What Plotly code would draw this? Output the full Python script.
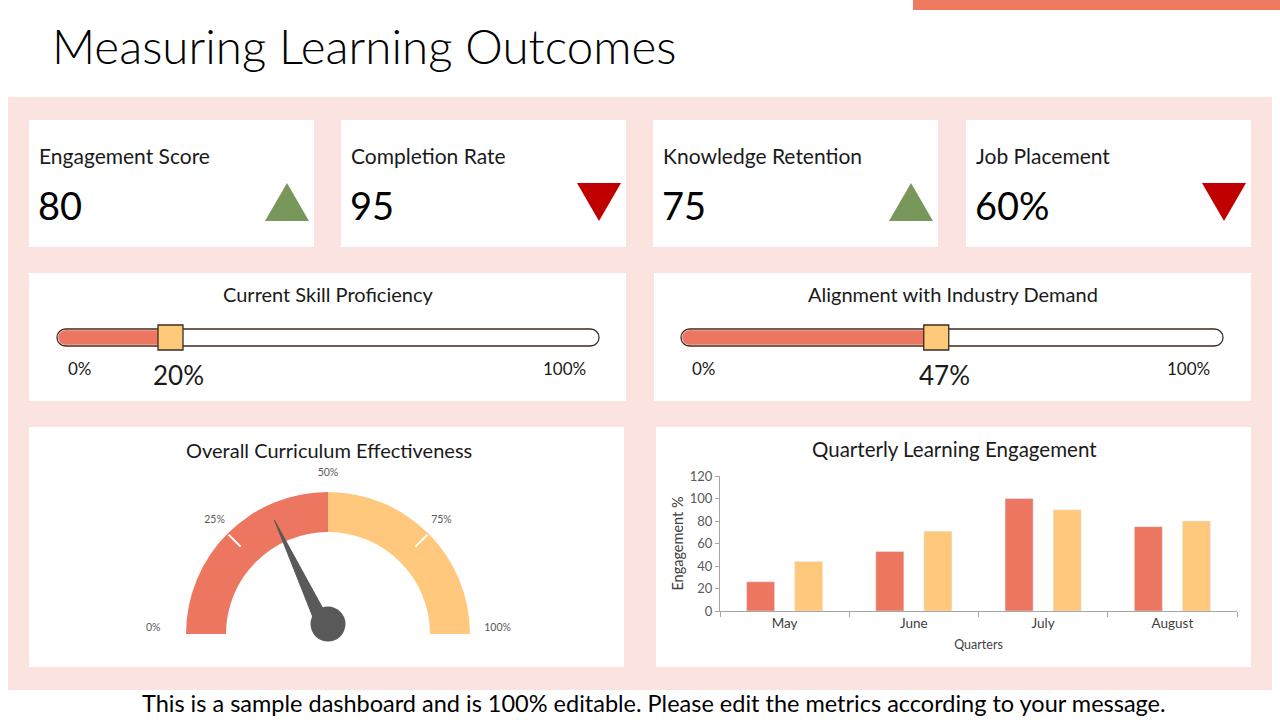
import plotly.graph_objects as go

# ---------------- data ----------------
title_text = "Measuring Learning Outcomes"
footer_text = "This is a sample dashboard and is 100% editable. Please edit the metrics according to your message."

kpi_labels = ["Engagement Score", "Completion Rate", "Knowledge Retention", "Job Placement"]
kpi_values = ["80", "95", "75", "60%"]
kpi_trend = ["up", "down", "up", "down"]

slider_titles = ["Current Skill Proficiency", "Alignment with Industry Demand"]
slider_values = [20, 47]
slider_min_label = "0%"
slider_max_label = "100%"

gauge_title = "Overall Curriculum Effectiveness"
gauge_value = 36
gauge_band_edges = [0, 50, 100]
gauge_ticks = [0, 25, 50, 75, 100]
gauge_tick_labels = ["0%", "25%", "50%", "75%", "100%"]

bar_title = "Quarterly Learning Engagement"
months = ["May", "June", "July", "August"]
series_a = [26, 53, 100, 75]
series_b = [44, 71, 90, 80]
bar_y_title = "Engagement %"
bar_x_title = "Quarters"

# ---------------- style ----------------
W, H = 1280, 720
FONT = "Lato"
RED = "#EC7660"
YEL = "#FFC87C"
PINK = "#FBE3DF"
UP_C = "#77985A"
DOWN_C = "#C00000"
DARK = "#595959"
TXT = "#1a1a1a"


def px(x):
    return x / W


def py(y):
    return 1 - y / H


shapes = []
annotations = []


def rect(x0, y0, x1, y1, color, layer="below"):
    shapes.append(dict(type="rect", xref="paper", yref="paper",
                       x0=px(x0), x1=px(x1), y0=py(y1), y1=py(y0),
                       fillcolor=color, line=dict(width=0), layer=layer))


def ann(text, x, y, size, color="#000000", xanchor="center", weight=None):
    f = dict(family=FONT, size=size, color=color)
    if weight:
        f["weight"] = weight
    annotations.append(dict(text=text, x=px(x), y=py(y), xref="paper", yref="paper",
                            xanchor=xanchor, yanchor="middle", showarrow=False, font=f))


def P(x, y):
    return f"{px(x):.6f},{py(y):.6f}"


def pill_path(x0, y0, x1, y1):
    r = (y1 - y0) / 2
    ym = (y0 + y1) / 2
    k = 0.5523 * r
    return (f"M {P(x0 + r, y0)} L {P(x1 - r, y0)} "
            f"C {P(x1 - r + k, y0)} {P(x1, ym - k)} {P(x1, ym)} "
            f"C {P(x1, ym + k)} {P(x1 - r + k, y1)} {P(x1 - r, y1)} "
            f"L {P(x0 + r, y1)} "
            f"C {P(x0 + r - k, y1)} {P(x0, ym + k)} {P(x0, ym)} "
            f"C {P(x0, ym - k)} {P(x0 + r - k, y0)} {P(x0 + r, y0)} Z")


def left_cap_path(x0, y0, x1, y1):
    r = (y1 - y0) / 2
    ym = (y0 + y1) / 2
    k = 0.5523 * r
    return (f"M {P(x0 + r + 2, y0)} L {P(x0 + r, y0)} "
            f"C {P(x0 + r - k, y0)} {P(x0, ym - k)} {P(x0, ym)} "
            f"C {P(x0, ym + k)} {P(x0 + r - k, y1)} {P(x0 + r, y1)} "
            f"L {P(x0 + r + 2, y1)} Z")


# background decorations
rect(913, 0, 1280, 10, "#EE7A60")
rect(8, 97, 1272, 690, PINK)

# ---------------- KPI cards ----------------
kpi_x = [29, 341, 653, 966]
kpi_w = 285
for i in range(4):
    x0 = kpi_x[i]
    rect(x0, 120, x0 + kpi_w, 247, "white")
    ann(kpi_labels[i], x0 + 8, 155, 21, TXT, "left")
    ann(kpi_values[i], x0 + 7, 205, 38, "#000000", "left")
    tx1 = x0 + kpi_w - 5
    tx0 = tx1 - 44
    if kpi_trend[i] == "up":
        path = f"M {P(tx0, 221)} L {P(tx1, 221)} L {P((tx0 + tx1) / 2, 183)} Z"
        col = UP_C
    else:
        path = f"M {P(tx0, 183)} L {P(tx1, 183)} L {P((tx0 + tx1) / 2, 221)} Z"
        col = DOWN_C
    shapes.append(dict(type="path", xref="paper", yref="paper", path=path,
                       fillcolor=col, line=dict(width=0), layer="above"))

# ---------------- sliders ----------------
slider_card_x = [(29, 626), (654, 1251)]
track_px = [(57, 599), (681, 1223)]
TY0, TY1 = 329, 346
fig = go.Figure()
for i in range(2):
    cx0, cx1 = slider_card_x[i]
    rect(cx0, 273, cx1, 401, "white")
    ann(slider_titles[i], (cx0 + cx1) / 2, 294, 20, TXT)
    t0, t1 = track_px[i]
    r = (TY1 - TY0) / 2
    shapes.append(dict(type="path", xref="paper", yref="paper",
                       path=pill_path(t0, TY0, t1, TY1), fillcolor="white",
                       line=dict(color="#3b2b22", width=1.3), layer="below"))
    shapes.append(dict(type="path", xref="paper", yref="paper",
                       path=left_cap_path(t0 + 1.2, TY0 + 1.2, t1, TY1 - 1.2), fillcolor=RED,
                       line=dict(width=0), layer="below"))
    xa = "x" + str(i + 2)
    ya = "y" + str(i + 2)
    fig.add_trace(go.Bar(x=[slider_values[i]], y=[0], base=0, orientation="h",
                         width=0.86, marker=dict(color=RED, line=dict(width=0)),
                         xaxis=xa, yaxis=ya, showlegend=False, hoverinfo="skip"))
    fig.add_trace(go.Scatter(x=[slider_values[i]], y=[0], mode="markers",
                             marker=dict(symbol="square", size=25, color="#FFC97A",
                                         line=dict(color="#3b2b22", width=1.3)),
                             xaxis=xa, yaxis=ya, cliponaxis=False, showlegend=False,
                             hoverinfo="skip"))
    ann(slider_min_label, t0 + 23, 369, 17, TXT)
    ann(slider_max_label, t1 - 35, 369, 17, TXT)
    annotations.append(dict(text=f"{slider_values[i]}%", x=slider_values[i], xref=xa,
                            y=py(375), yref="paper", showarrow=False, xshift=8,
                            xanchor="center", yanchor="middle",
                            font=dict(family=FONT, size=26, color=TXT)))
    fig.update_layout(**{
        "xaxis" + str(i + 2): dict(domain=[px(t0 + r), px(t1 - r)], range=[0, 100],
                                   visible=False, fixedrange=True, anchor=ya),
        "yaxis" + str(i + 2): dict(domain=[py(TY1), py(TY0)], range=[-0.5, 0.5],
                                   visible=False, fixedrange=True, anchor=xa),
    })

# ---------------- gauge ----------------
rect(29, 427, 624, 667, "white")
ann(gauge_title, 329, 450, 20, TXT)
GC_X, GC_Y, R_OUT, R_IN = 328, 634, 142, 102
R_MAX = 1.3  # radial room for the percentage labels
inner = R_IN / R_OUT
deg = 180 / 100
band_colors = [RED, YEL]
for j in range(2):
    a, b = gauge_band_edges[j], gauge_band_edges[j + 1]
    fig.add_trace(go.Barpolar(theta=[(a + b) / 2 * deg], width=[(b - a) * deg],
                              r=[1 - inner], base=inner,
                              marker=dict(color=band_colors[j], line=dict(width=0)),
                              subplot="polar", showlegend=False, hoverinfo="skip"))
for t in [25, 75]:
    fig.add_trace(go.Scatterpolar(r=[0.87, 0.99], theta=[t * deg, t * deg], mode="lines",
                                  line=dict(color="white", width=2), subplot="polar",
                                  showlegend=False, hoverinfo="skip"))
label_pos = []
label_r = []
label_th = []
for t in gauge_ticks:
    if t == gauge_ticks[0]:
        label_pos.append("top left")
        label_r.append(1.18)
        label_th.append(t * deg)
    elif t == gauge_ticks[-1]:
        label_pos.append("top right")
        label_r.append(1.1)
        label_th.append(t * deg)
    else:
        label_pos.append("middle center")
        label_r.append(1.13)
        label_th.append(t * deg)
fig.add_trace(go.Scatterpolar(r=label_r, theta=label_th,
                              mode="text", text=gauge_tick_labels, textposition=label_pos,
                              textfont=dict(family=FONT, size=10.5, color=DARK),
                              cliponaxis=False, subplot="polar", showlegend=False,
                              hoverinfo="skip"))
ang = gauge_value * deg
fig.add_trace(go.Scatterpolar(r=[0.885, 0.055, 0.055, 0.885],
                              theta=[ang, ang + 90, ang - 90, ang],
                              mode="lines", fill="toself", fillcolor=DARK,
                              line=dict(color=DARK, width=1), subplot="polar",
                              showlegend=False, hoverinfo="skip"))
fig.add_trace(go.Scatterpolar(r=[0.07], theta=[90], mode="markers",
                              marker=dict(size=35, color=DARK), subplot="polar",
                              cliponaxis=False, showlegend=False, hoverinfo="skip"))

RP = R_OUT * R_MAX
fig.update_layout(polar=dict(
    domain=dict(x=[px(GC_X - RP), px(GC_X + RP)], y=[py(GC_Y), py(GC_Y - RP)]),
    sector=[0, 180], bgcolor="rgba(0,0,0,0)", bargap=0,
    radialaxis=dict(range=[0, R_MAX], visible=False),
    angularaxis=dict(rotation=180, direction="clockwise", visible=False),
))

# ---------------- bar chart ----------------
rect(656, 427, 1251, 667, "white")
ann(bar_title, 954, 449, 20.5, TXT)
fig.add_trace(go.Bar(x=months, y=series_a, marker=dict(color=RED), xaxis="x", yaxis="y",
                     showlegend=False, name="Series 1"))
fig.add_trace(go.Bar(x=months, y=series_b, marker=dict(color=YEL), xaxis="x", yaxis="y",
                     showlegend=False, name="Series 2"))

axis_col = "#A6A6A6"
fig.update_layout(
    barmode="group", bargap=0.256, bargroupgap=0.417,
    xaxis=dict(domain=[px(720), px(1237)], anchor="y", type="category",
               showline=True, linecolor=axis_col, linewidth=1,
               ticks="outside", tickson="boundaries", ticklen=5, tickcolor=axis_col,
               showgrid=False, tickfont=dict(family=FONT, size=13.5, color="#404040"),
               title=dict(text=bar_x_title, standoff=10,
                          font=dict(family=FONT, size=12.5, color="#404040"))),
    yaxis=dict(domain=[py(611), py(476)], anchor="x", range=[0, 120], dtick=20,
               showline=True, linecolor=axis_col, linewidth=1,
               ticks="outside", ticklen=4, tickcolor=axis_col, showgrid=False,
               zeroline=False, tickfont=dict(family=FONT, size=13, color=DARK),
               title=dict(text=bar_y_title, standoff=2,
                          font=dict(family=FONT, size=14.5, color="#404040"))),
)

# ---------------- title & footer ----------------
ann(title_text, 50, 45, 47.5, "#000000", "left", weight=300)
ann(footer_text, 654, 703, 23.5, "#000000")

fig.update_layout(width=W, height=H,
                  margin=dict(l=0, r=0, t=0, b=0, pad=0, autoexpand=False), autosize=False,
                  paper_bgcolor="white", plot_bgcolor="rgba(0,0,0,0)",
                  shapes=shapes, annotations=annotations, showlegend=False)

page_fix = "document.documentElement.style.margin='0';document.body.style.margin='0';"
fig.write_html("out.html", config={"displayModeBar": False, "responsive": False},
               post_script=page_fix)
